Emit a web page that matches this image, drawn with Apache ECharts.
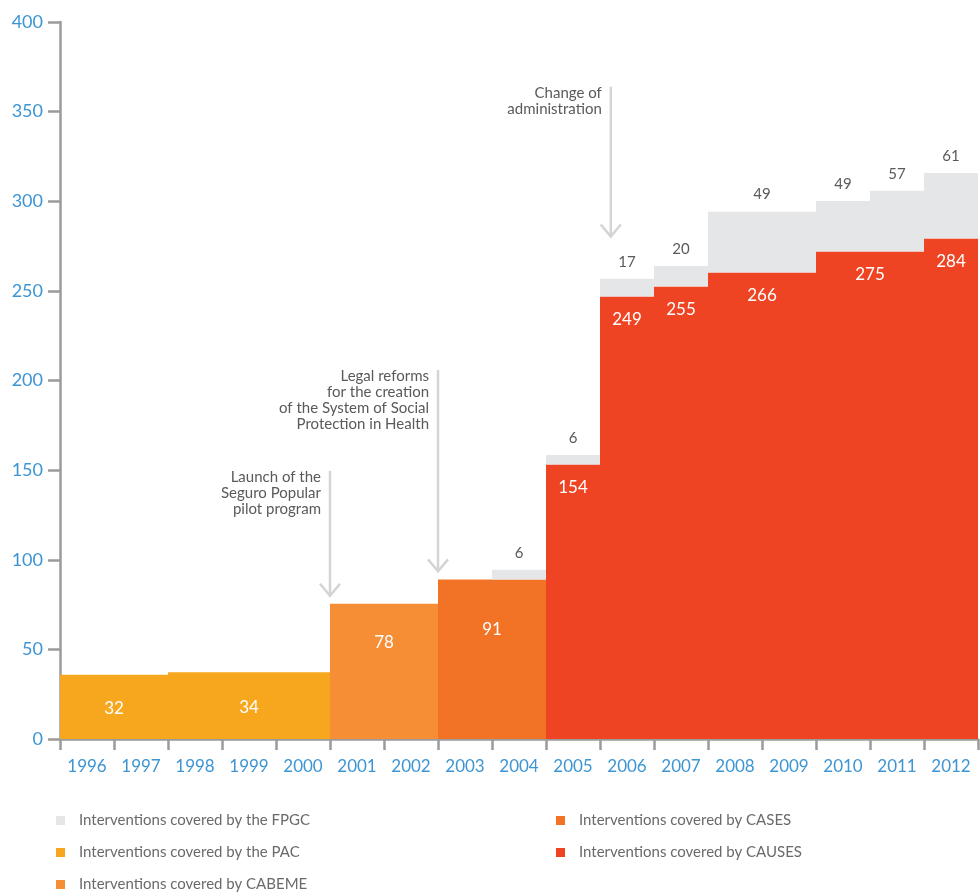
<!DOCTYPE html>
<html>
<head>
<meta charset="utf-8">
<script src="https://cdn.jsdelivr.net/npm/echarts@6/dist/echarts.min.js"></script>
<style>
html,body{margin:0;padding:0;background:#fff;}
#chart{width:980px;height:894px;}
</style>
</head>
<body>
<div id="chart"></div>
<script>
// ---------- data ----------
const years = ['1996','1997','1998','1999','2000','2001','2002','2003','2004','2005','2006','2007','2008','2009','2010','2011','2012'];
const yTicks = [0, 50, 100, 150, 200, 250, 300, 350, 400];

// top of each block per year, as drawn against the y axis (null = no block)
const pacTop    = [35.9, 35.9, 37.3, 37.3, 37.3, null, null, null, null, null, null, null, null, null, null, null, null];
const cabemeTop = [null, null, null, null, null, 75.5, 75.5, null, null, null, null, null, null, null, null, null, null];
const casesTop  = [null, null, null, null, null, null, null, 89.0, 89.0, null, null, null, null, null, null, null, null];
const causesTop = [null, null, null, null, null, null, null, null, null, 153.1, 246.8, 252.4, 260.2, 260.2, 271.9, 271.9, 279.2];
const fpgcTop   = [null, null, null, null, null, null, null, null, 94.4, 158.5, 256.8, 263.9, 294.2, 294.2, 300.2, 305.8, 315.8];

// printed number of interventions, one per block (left to right)
const pacLabels    = [32, 34];
const cabemeLabels = [78];
const casesLabels  = [91];
const causesLabels = [154, 249, 255, 266, 275, 284];
const fpgcLabels   = [6, 6, 17, 20, 49, 49, 57, 61];

// annotations: position (in categories from the left edge), arrow start value, arrow tip value
const noteTexts = ['Launch of the\nSeguro Popular\npilot program',
                   'Legal reforms\nfor the creation\nof the System of Social\nProtection in Health',
                   'Change of\nadministration'];
const notePos   = [5, 7, 10.2];
const noteFrom  = [149.6, 205.9, 363.9];
const noteTo    = [79.9, 93.5, 280.3];

const names = {
  fpgc: 'Interventions covered by the FPGC',
  pac: 'Interventions covered by the PAC',
  cabeme: 'Interventions covered by CABEME',
  cases: 'Interventions covered by CASES',
  causes: 'Interventions covered by CAUSES'
};
const colors = { fpgc: '#E5E6E8', pac: '#F7A71E', cabeme: '#F58E35', cases: '#F27226', causes: '#EF4424' };

const FONT = 'Lato, "Open Sans", sans-serif';

// ---------- build blocks ----------
const baseTop = years.map((_, i) => Math.max(pacTop[i] || 0, cabemeTop[i] || 0, casesTop[i] || 0, causesTop[i] || 0));

function toRuns(tops, bottoms) {
  const runs = [];
  for (let i = 0; i < tops.length; i++) {
    if (tops[i] == null) continue;
    const b = bottoms ? bottoms[i] : 0;
    const last = runs[runs.length - 1];
    if (last && last.end === i - 1 && last.top === tops[i] && last.bottom === b) {
      last.end = i;
    } else {
      runs.push({ start: i, end: i, bottom: b, top: tops[i] });
    }
  }
  return runs;
}

function blockSeries(key, tops, labels, bottoms, labelMode, offset) {
  const runs = toRuns(tops, bottoms);
  const data = runs.map((r, i) => [r.start, r.end, r.bottom, r.top, i]);
  const textColor = key === 'fpgc' ? '#5a5a5a' : '#ffffff';
  const fontSize = key === 'fpgc' ? 15 : 17;
  return {
    type: 'custom',
    name: names[key],
    itemStyle: { color: colors[key] },
    encode: { x: [0, 1], y: [2, 3] },
    data: data,
    silent: true,
    renderItem: function (params, api) {
      const s = api.value(0), e = api.value(1), b = api.value(2), t = api.value(3), idx = api.value(4);
      const w = api.size([1, 0])[0];
      const p0 = api.coord([s, b]);
      const p1 = api.coord([e, t]);
      const x0 = p0[0] - w / 2, x1 = p1[0] + w / 2;
      const yTop = p1[1], yBot = p0[1];
      let ly;
      if (labelMode === 'middle') ly = (yTop + yBot) / 2 + offset;
      else if (labelMode === 'above') ly = yTop - offset;
      else ly = yTop + offset;
      return {
        type: 'group',
        children: [
          { type: 'rect', shape: { x: x0, y: yTop, width: x1 - x0, height: yBot - yTop }, style: { fill: colors[key] } },
          { type: 'text', z2: 10, style: { text: String(labels[idx]), x: (x0 + x1) / 2, y: ly, fill: textColor,
              fontSize: fontSize, fontFamily: FONT, align: 'center', verticalAlign: 'middle' } }
        ]
      };
    }
  };
}

const noteSeries = {
  type: 'custom',
  name: 'notes',
  silent: true,
  data: notePos.map((p, i) => [p, noteFrom[i], noteTo[i], i]),
  encode: { x: 0, y: [1, 2] },
  renderItem: function (params, api) {
    const pos = api.value(0), from = api.value(1), to = api.value(2), i = api.value(3);
    const w = api.size([1, 0])[0];
    const c0 = api.coord([0, from]);
    const x = c0[0] - w / 2 + pos * w;
    const y0 = c0[1];
    const y1 = api.coord([0, to])[1];
    const stroke = { stroke: '#D4D4D4', lineWidth: 2.5, fill: null };
    return {
      type: 'group',
      children: [
        { type: 'line', shape: { x1: x, y1: y0, x2: x, y2: y1 - 1 }, style: stroke },
        { type: 'polyline', shape: { points: [[x - 10, y1 - 12], [x, y1], [x + 10, y1 - 12]] }, style: stroke },
        { type: 'text', style: { text: noteTexts[i], x: x - 9, y: y0 - 2, fill: '#5a5a5a', fontSize: 15,
            lineHeight: 16, fontFamily: FONT, align: 'right', verticalAlign: 'top' } }
      ]
    };
  }
};

const chart = echarts.init(document.getElementById('chart'), null, { renderer: 'canvas' });
const axisGray = '#9B9B9B';
const blue = '#3D95D4';

const legendText = { color: '#6a6a6a', fontSize: 15, fontFamily: FONT, padding: [0, 0, 0, 9], lineHeight: 15 };

chart.setOption({
  animation: false,
  backgroundColor: '#ffffff',
  grid: { left: 60, right: 2, top: 22, bottom: 155, containLabel: false },
  xAxis: {
    type: 'category',
    data: years,
    boundaryGap: true,
    axisLine: { show: true, lineStyle: { color: axisGray, width: 2.5 } },
    axisTick: { show: true, length: 11, interval: 0, lineStyle: { color: axisGray, width: 2.5 } },
    axisLabel: { color: blue, fontSize: 17, fontFamily: FONT, margin: 19, interval: 0 },
    splitLine: { show: false }
  },
  yAxis: {
    type: 'value',
    min: yTicks[0],
    max: yTicks[yTicks.length - 1],
    interval: yTicks[1] - yTicks[0],
    axisLine: { show: true, lineStyle: { color: axisGray, width: 2.5 } },
    axisTick: { show: true, length: 12, lineStyle: { color: axisGray, width: 2.5 } },
    axisLabel: { color: blue, fontSize: 18, fontFamily: FONT, margin: 17 },
    splitLine: { show: false }
  },
  legend: [
    {
      orient: 'vertical', left: 56, top: 813, padding: 0, height: 80, itemWidth: 9, itemHeight: 9, itemGap: 17, icon: 'rect',
      selectedMode: false, textStyle: legendText,
      data: [
        { name: names.fpgc, itemStyle: { color: colors.fpgc } },
        { name: names.pac, itemStyle: { color: colors.pac } },
        { name: names.cabeme, itemStyle: { color: colors.cabeme } }
      ]
    },
    {
      orient: 'vertical', left: 556, top: 813, padding: 0, height: 80, itemWidth: 9, itemHeight: 9, itemGap: 17, icon: 'rect',
      selectedMode: false, textStyle: legendText,
      data: [
        { name: names.cases, itemStyle: { color: colors.cases } },
        { name: names.causes, itemStyle: { color: colors.causes } }
      ]
    }
  ],
  series: [
    blockSeries('pac', pacTop, pacLabels, null, 'middle', 2),
    blockSeries('cabeme', cabemeTop, cabemeLabels, null, 'top', 39),
    blockSeries('cases', casesTop, casesLabels, null, 'top', 50),
    blockSeries('causes', causesTop, causesLabels, null, 'top', 23),
    blockSeries('fpgc', fpgcTop, fpgcLabels, baseTop, 'above', 17),
    noteSeries
  ]
});
</script>
</body>
</html>
